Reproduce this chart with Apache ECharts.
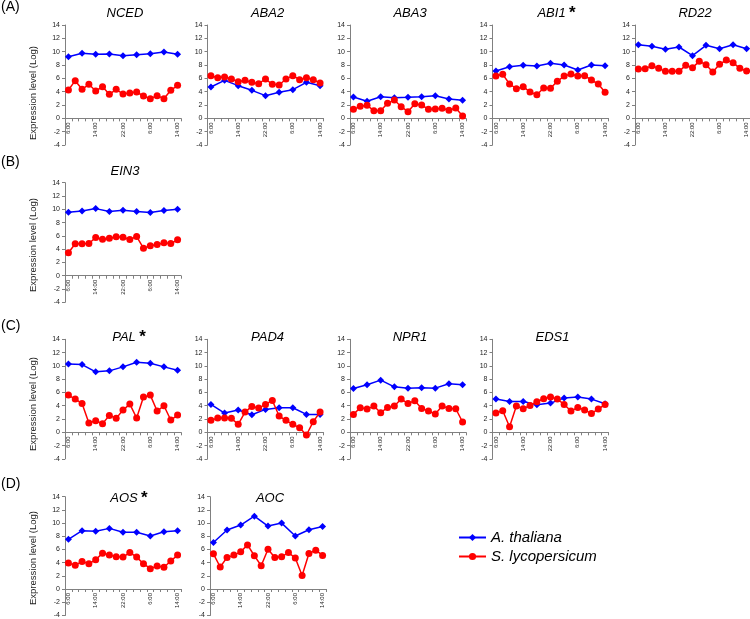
<!DOCTYPE html>
<html><head><meta charset="utf-8">
<script src="https://cdn.jsdelivr.net/npm/echarts@6/dist/echarts.min.js"></script>
<style>html,body{margin:0;padding:0;background:#fff}#c{width:750px;height:619px}</style>
</head><body><div id="c"></div>
<script>
// ---- data ----
const timePoints = ['6:00','8:00','10:00','12:00','14:00','16:00','18:00','20:00','22:00','0:00','2:00','4:00','6:00','8:00','10:00','12:00','14:00'];
const seriesNames = ['A. thaliana', 'S. lycopersicum'];
const yMin = -4, yMax = 14, yStep = 2;
const yName = 'Expression level (Log)';
const rowLabels = ['(A)', '(B)', '(C)', '(D)'];
const starred = ['ABI1', 'PAL', 'AOS'];
// A. thaliana: sampled every 4 h (time points 0,2,4,...,16); S. lycopersicum: every 2 h
const NCED_at = [9.25, 9.75, 9.6, 9.65, 9.4, 9.55, 9.7, 9.95, 9.6];
const NCED_sl = [4.25, 5.65, 4.35, 5.1, 4.1, 4.75, 3.6, 4.35, 3.65, 3.8, 3.95, 3.35, 2.95, 3.4, 2.95, 4.2, 4.95];
const ABA2_at = [4.7, 5.7, 4.9, 4.2, 3.4, 3.9, 4.3, 5.4, 4.9];
const ABA2_sl = [6.4, 6.1, 6.2, 5.9, 5.5, 5.7, 5.4, 5.2, 5.9, 5.1, 5.0, 5.9, 6.4, 5.8, 6.1, 5.8, 5.3];
const ABA3_at = [3.2, 2.55, 3.25, 3.1, 3.15, 3.25, 3.4, 2.9, 2.7];
const ABA3_sl = [1.35, 1.8, 1.95, 1.15, 1.15, 2.25, 2.75, 1.75, 1.0, 2.2, 2.0, 1.35, 1.4, 1.5, 1.2, 1.55, 0.35];
const ABI1_at = [7.1, 7.75, 7.95, 7.85, 8.25, 8.0, 7.25, 8.0, 7.9];
const ABI1_sl = [6.35, 6.6, 5.15, 4.45, 4.75, 3.95, 3.55, 4.55, 4.5, 5.55, 6.35, 6.65, 6.35, 6.4, 5.75, 5.15, 3.9];
const RD22_at = [11.05, 10.8, 10.35, 10.7, 9.4, 10.95, 10.45, 11.05, 10.45];
const RD22_sl = [7.4, 7.45, 7.9, 7.5, 7.05, 7.05, 7.05, 7.95, 7.6, 8.55, 8.05, 6.95, 8.1, 8.75, 8.35, 7.5, 7.1];
const EIN3_at = [9.55, 9.75, 10.1, 9.65, 9.85, 9.65, 9.5, 9.8, 10.0];
const EIN3_sl = [3.45, 4.8, 4.8, 4.85, 5.75, 5.5, 5.65, 5.85, 5.8, 5.45, 5.9, 4.15, 4.5, 4.7, 4.95, 4.85, 5.4];
const PAL_at = [10.3, 10.2, 9.1, 9.25, 9.85, 10.55, 10.4, 9.85, 9.35];
const PAL_sl = [5.6, 5.0, 4.35, 1.4, 1.75, 1.3, 2.55, 2.1, 3.35, 4.25, 2.15, 5.3, 5.6, 3.2, 4.0, 1.85, 2.6];
const PAD4_at = [4.2, 2.9, 3.35, 2.65, 3.45, 3.7, 3.7, 2.7, 2.7];
const PAD4_sl = [1.8, 2.15, 2.15, 2.1, 1.2, 3.05, 3.9, 3.65, 4.2, 4.8, 2.45, 1.8, 1.2, 0.7, -0.4, 1.6, 3.05];
const NPR1_at = [6.6, 7.15, 7.85, 6.85, 6.65, 6.7, 6.65, 7.3, 7.15];
const NPR1_sl = [2.7, 3.7, 3.5, 3.95, 2.95, 3.75, 3.95, 5.0, 4.35, 4.75, 3.6, 3.2, 2.75, 3.95, 3.6, 3.55, 1.55];
const EDS1_at = [5.0, 4.65, 4.65, 4.15, 4.4, 5.15, 5.3, 5.0, 4.3];
const EDS1_sl = [2.9, 3.25, 0.85, 3.95, 3.55, 4.05, 4.6, 5.05, 5.3, 5.0, 4.2, 3.2, 3.75, 3.35, 2.85, 3.5, 4.2];
const AOS_at = [7.55, 8.85, 8.75, 9.2, 8.6, 8.6, 8.05, 8.7, 8.85];
const AOS_sl = [3.95, 3.6, 4.2, 3.85, 4.45, 5.45, 5.15, 4.9, 4.85, 5.55, 4.85, 3.85, 3.1, 3.5, 3.3, 4.25, 5.15];
const AOC_at = [7.05, 8.95, 9.7, 11.05, 9.55, 10.0, 8.05, 9.0, 9.5];
const AOC_sl = [5.35, 3.35, 4.8, 5.15, 5.65, 6.7, 5.05, 3.55, 6.05, 4.8, 4.9, 5.55, 4.7, 2.05, 5.4, 5.9, 5.1];

const genes = [
  ['NCED', NCED_at, NCED_sl], ['ABA2', ABA2_at, ABA2_sl], ['ABA3', ABA3_at, ABA3_sl],
  ['ABI1', ABI1_at, ABI1_sl], ['RD22', RD22_at, RD22_sl], ['EIN3', EIN3_at, EIN3_sl],
  ['PAL', PAL_at, PAL_sl], ['PAD4', PAD4_at, PAD4_sl], ['NPR1', NPR1_at, NPR1_sl],
  ['EDS1', EDS1_at, EDS1_sl], ['AOS', AOS_at, AOS_sl], ['AOC', AOC_at, AOC_sl]
];

// ---- layout ----
const panelPos = {NCED:[0,65], ABA2:[0,207.5], ABA3:[0,350], ABI1:[0,492.5], RD22:[0,635],
  EIN3:[1,65], PAL:[2,65], PAD4:[2,207.5], NPR1:[2,350], EDS1:[2,492.5], AOS:[3,65], AOC:[3,210]};
const rowTop = [25, 182.7, 339.3, 496.7];
const rowH = [120, 119.6, 119.6, 119.2];
const titleY = [13.7, 171, 337, 498.5];
const rowLabelY = [7.5, 162.5, 326, 484];
const yNameY = [93, 245, 404, 558];
const gridW = 116;
const FONT = 'Liberation Sans, Arial, sans-serif';
const BLUE = '#0000ff', RED = '#ff0000', AXIS = '#808080';

const grid = [], xAxis = [], yAxis = [], series = [], graphic = [];
genes.forEach(([g, at, sl], k) => {
  const [row, left] = panelPos[g];
  const h = rowH[row];
  grid.push({left: left, top: rowTop[row], width: gridW, height: h, containLabel: false});
  // x axis sits on the y = 0 line: shift it up from the bottom by the -4..0 span
  xAxis.push({gridIndex: k, type: 'category', data: timePoints, boundaryGap: true,
    position: 'bottom', offset: -h * (0 - yMin) / (yMax - yMin),
    axisLine: {onZero: false, lineStyle: {color: AXIS, width: 1}},
    axisTick: {show: true, interval: 0, length: 3, lineStyle: {color: AXIS}},
    axisLabel: {interval: 3, rotate: 90, fontSize: 6, color: '#222', margin: 4, fontFamily: FONT},
    splitLine: {show: false}});
  yAxis.push({gridIndex: k, type: 'value', min: yMin, max: yMax, interval: yStep,
    axisLine: {show: true, lineStyle: {color: AXIS, width: 1}},
    axisTick: {show: true, length: 3, lineStyle: {color: AXIS}},
    axisLabel: {fontSize: 7, color: '#222', margin: 5, fontFamily: FONT},
    splitLine: {show: false}});
  series.push({name: seriesNames[0], type: 'line', xAxisIndex: k, yAxisIndex: k,
    data: at.map((v, i) => [2 * i, v]), symbol: 'diamond', symbolSize: 7,
    showSymbol: true, showAllSymbol: true,
    lineStyle: {color: BLUE, width: 1.5}, itemStyle: {color: BLUE}, animation: false, z: 2});
  series.push({name: seriesNames[1], type: 'line', xAxisIndex: k, yAxisIndex: k,
    data: sl.map((v, i) => [i, v]), symbol: 'circle', symbolSize: 7,
    showSymbol: true, showAllSymbol: true,
    lineStyle: {color: RED, width: 1.5}, itemStyle: {color: RED}, animation: false, z: 3});
  const isStar = starred.includes(g);
  graphic.push({type: 'text', x: left + gridW / 2 + (isStar ? 6 : 2), y: titleY[row],
    style: {text: isStar ? '{i|' + g + '} {s|*}' : '{i|' + g + '}', align: 'center', verticalAlign: 'middle',
      rich: {i: {fontSize: 13, fontStyle: 'italic', fontFamily: FONT, fill: '#000'},
             s: {fontSize: 17, fontWeight: 'bold', fontFamily: FONT, fill: '#000'}}}});
});
rowLabels.forEach((t, r) => {
  graphic.push({type: 'text', x: 1, y: rowLabelY[r],
    style: {text: t, fontSize: 14, fontFamily: FONT, fill: '#000', align: 'left', verticalAlign: 'middle'}});
  graphic.push({type: 'text', x: 33, y: yNameY[r], rotation: Math.PI / 2,
    style: {text: yName, fontSize: 9.5, fontFamily: FONT, fill: '#222', align: 'center', verticalAlign: 'middle'}});
});

const chart = echarts.init(document.getElementById('c'), null, {renderer: 'canvas'});
chart.setOption({
  animation: false,
  backgroundColor: '#fff',
  grid, xAxis, yAxis, series, graphic,
  legend: {data: seriesNames, orient: 'vertical', left: 453, top: 525, itemWidth: 27, itemHeight: 9, itemGap: 4,
    textStyle: {fontSize: 15, fontStyle: 'italic', color: '#000', fontFamily: FONT}}
});
</script></body></html>
